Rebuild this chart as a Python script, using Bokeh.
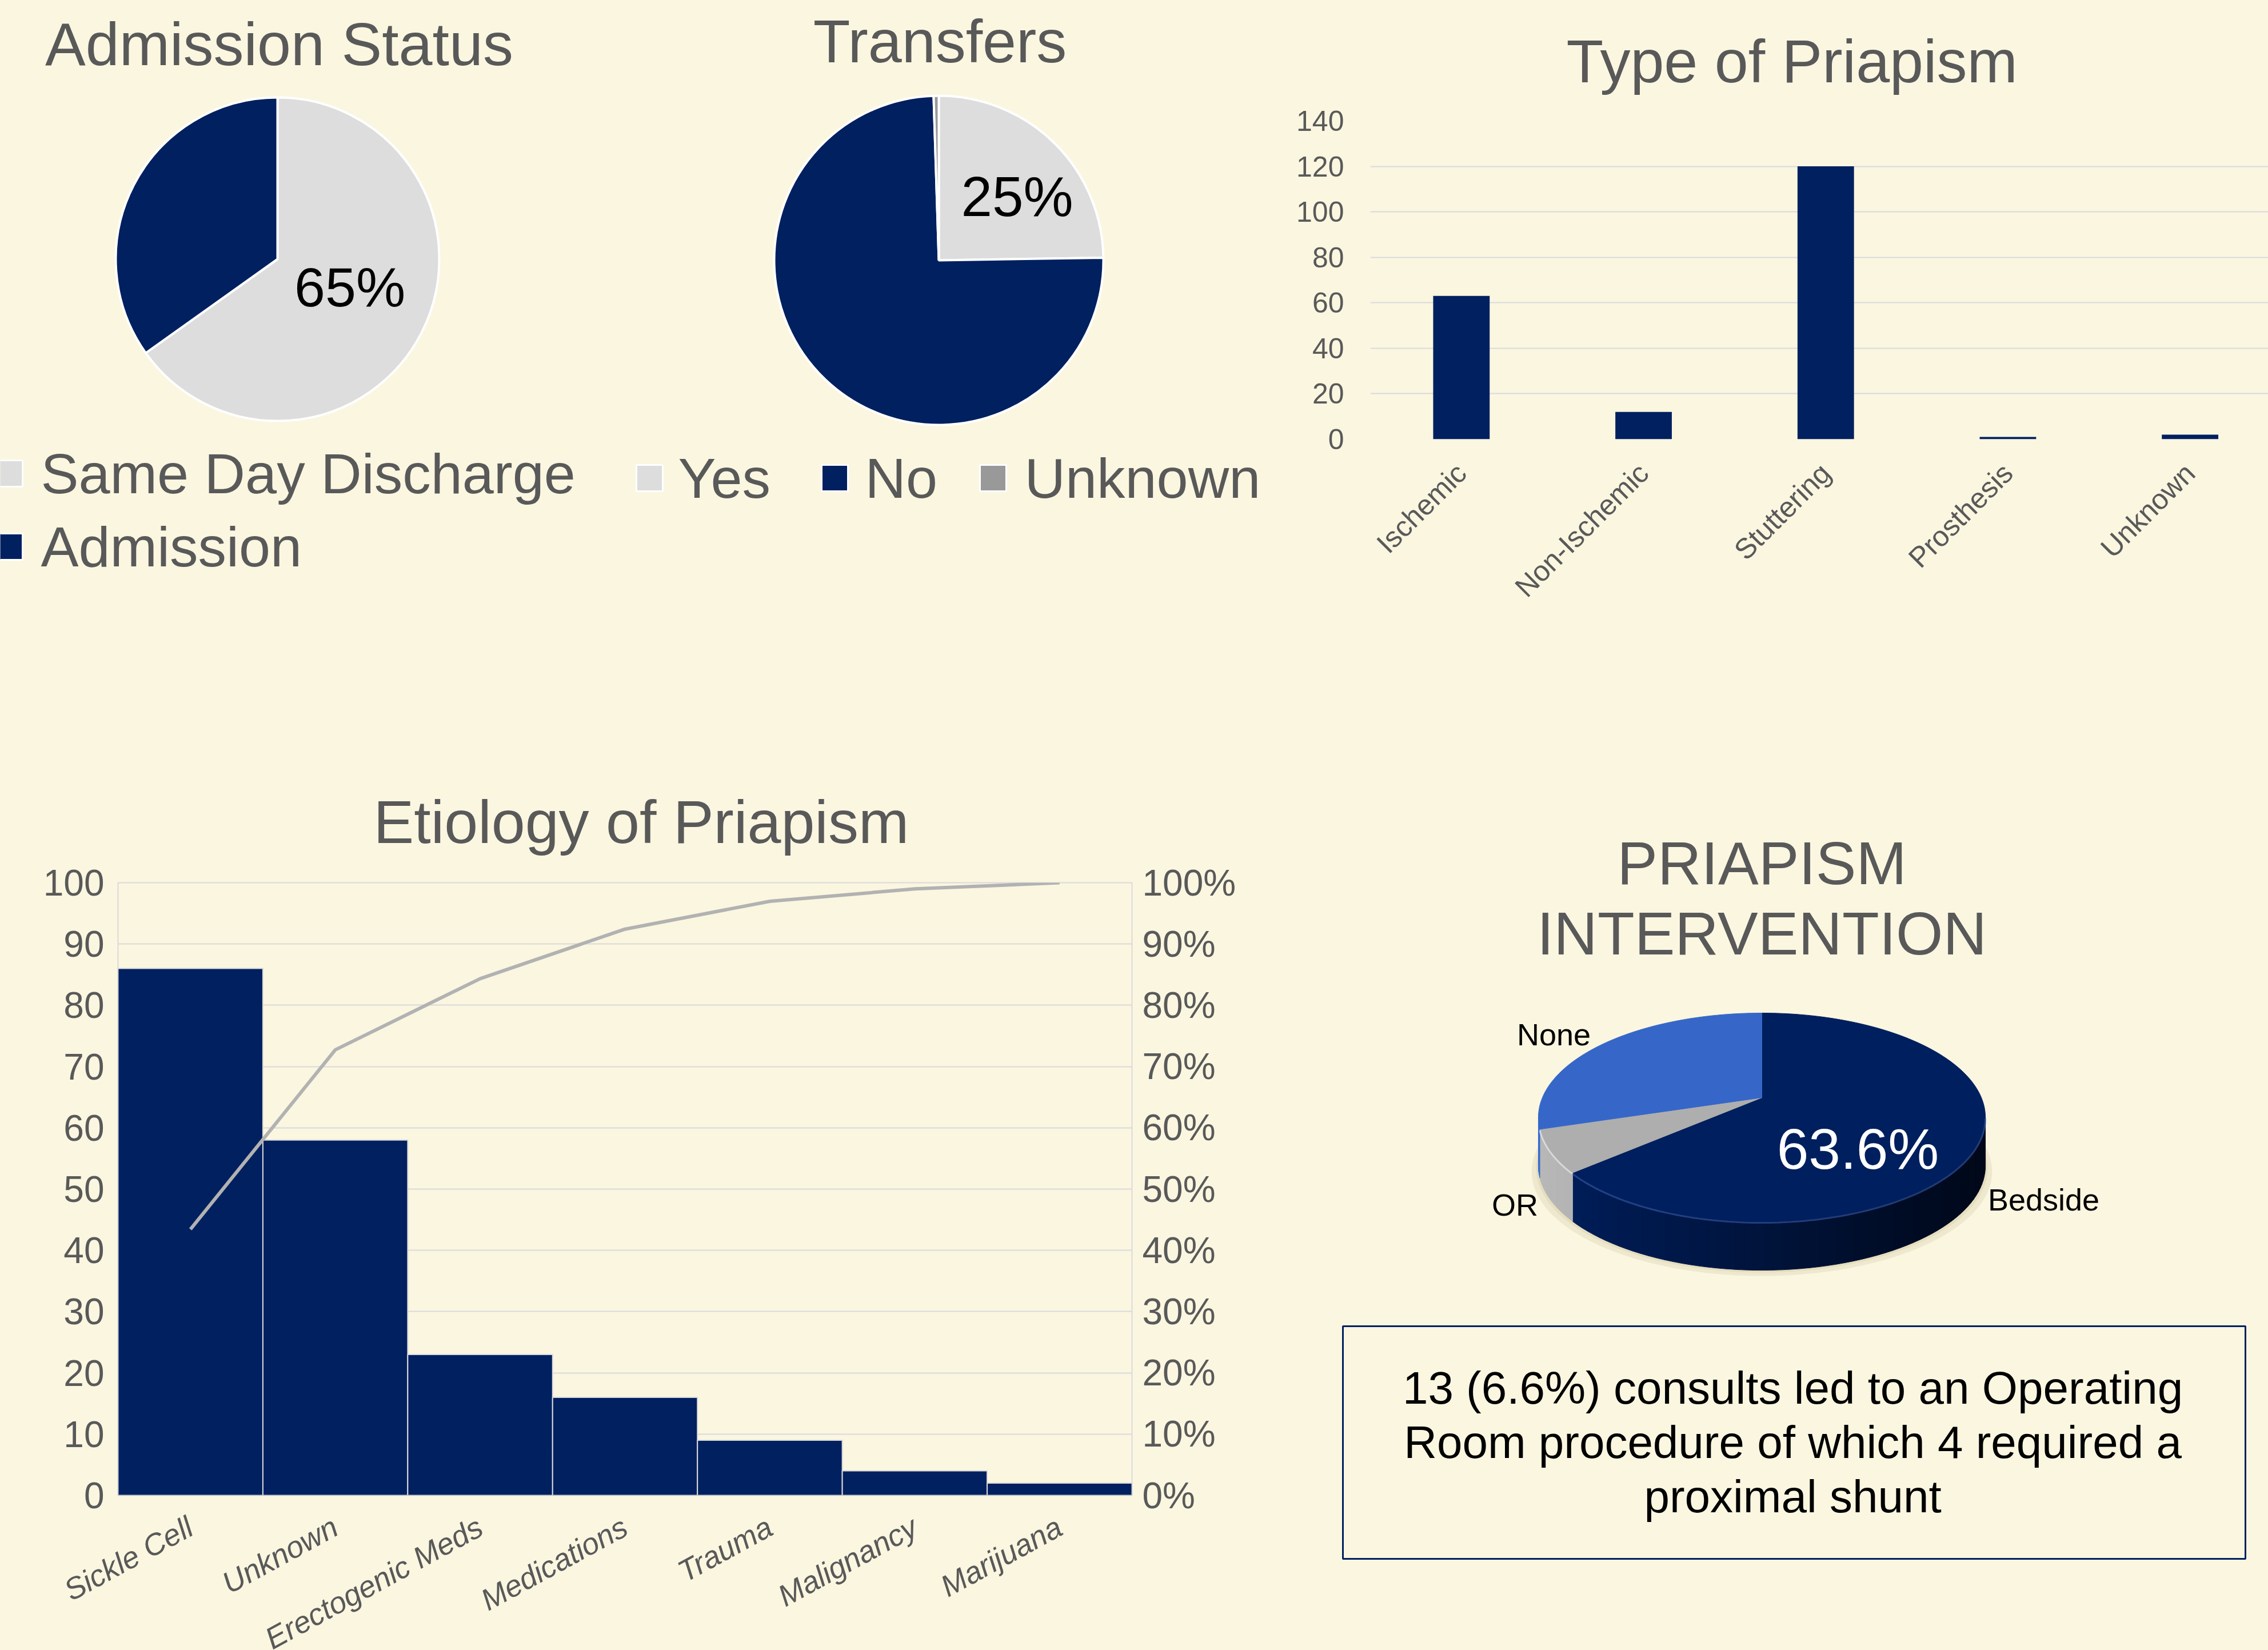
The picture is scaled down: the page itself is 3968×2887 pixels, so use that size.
import numpy as np
from math import pi
from bokeh.plotting import figure
from bokeh.layouts import column, row
from bokeh.models import Range1d, LinearAxis, FixedTicker, NumeralTickFormatter
from bokeh.core.properties import value
from bokeh.embed import file_html
from bokeh.resources import INLINE

# ---------------- data ----------------
adm_labels = ["Same Day Discharge", "Admission"]
adm_values = [129, 69]

trans_labels = ["Yes", "No", "Unknown"]
trans_values = [49, 148, 1]

type_cats = ["Ischemic", "Non-Ischemic", "Stuttering", "Prosthesis", "Unknown"]
type_values = [63, 12, 120, 1, 2]
type_ticks = [0, 20, 40, 60, 80, 100, 120, 140]

etio_cats = ["Sickle Cell", "Unknown", "Erectogenic Meds", "Medications",
             "Trauma", "Malignancy", "Marijuana"]
etio_values = [86, 58, 23, 16, 9, 4, 2]
etio_ticks = [0, 10, 20, 30, 40, 50, 60, 70, 80, 90, 100]
etio_pct_ticks = [0, 0.1, 0.2, 0.3, 0.4, 0.5, 0.6, 0.7, 0.8, 0.9, 1.0]

interv_labels = ["Bedside", "OR", "None"]
interv_values = [126, 13, 59]

note_lines = ["13 (6.6%) consults led to an Operating",
              "Room procedure of which 4 required a",
              "proximal shunt"]

# ---------------- style ----------------
FONT = "Liberation Sans"
BG = "#FAF6E0"
NAVY = "#002060"
LIGHT = "#DDDDDD"
UNK = "#999999"
TXT = "#595959"
GRID = "#D9D9D9"

TOP_H = 1288
BOT_H = 1599


def canvas(W, H):
    p = figure(width=W, height=H, x_range=Range1d(0, W), y_range=Range1d(0, H),
               x_axis_location=None, y_axis_location=None, toolbar_location=None,
               output_backend="svg", min_border=0, outline_line_color=None,
               background_fill_color=BG, border_fill_color=BG, frame_align=False)
    p.grid.visible = False
    return p


def txt(p, x, y_base, s, size, color, align="center", style="normal"):
    # y_base: alphabetic baseline (data units); drawn with middle baseline at cap middle
    p.text(x=[x], y=[y_base + 0.358 * size], text=[s], text_font=value(FONT),
           text_font_size=value(f"{size}px"), text_color=color,
           text_align=align, text_baseline="middle", text_font_style=style)


def flat_pie(p, cx, cy, r, vals, cols, label_idx, label_r, ang_off, label_size):
    total = float(sum(vals))
    fr = np.array(vals) / total
    cum = np.concatenate([[0], np.cumsum(fr)])
    start = pi / 2 - 2 * pi * cum[:-1]
    end = pi / 2 - 2 * pi * cum[1:]
    p.wedge(x=[cx] * len(vals), y=[cy] * len(vals), radius=r,
            start_angle=start, end_angle=end, direction="clock",
            fill_color=cols, line_color="white", line_width=4)
    mid = 2 * pi * (cum[label_idx] + cum[label_idx + 1]) / 2 + np.radians(ang_off)
    lx = cx + label_r * r * np.sin(mid)
    ly = cy + label_r * r * np.cos(mid)
    txt(p, lx, ly - 0.358 * label_size, f"{fr[label_idx] * 100:.0f}%", label_size, "black")


def legend_item(p, x_sq, y_c, x_txt, label, col, size=99):
    p.rect(x=[x_sq], y=[y_c], width=46, height=46, fill_color=col,
           line_color="white", line_width=3)
    txt(p, x_txt, y_c - 0.358 * size, label, size, TXT, align="left")


# ---------------- Admission Status ----------------
WA = 1108
fxA = 0
pA = canvas(WA, TOP_H)
tA = lambda x: x - fxA
yA = lambda y: TOP_H - y
flat_pie(pA, tA(485), yA(453), 283, adm_values, [LIGHT, NAVY], 0, 0.48, -6, 97)
txt(pA, tA(488), yA(114), "Admission Status", 106, TXT)
legend_item(pA, tA(16), yA(828), tA(71), adm_labels[0], LIGHT)
legend_item(pA, tA(16), yA(956), tA(71), adm_labels[1], NAVY)

# ---------------- Transfers ----------------
WB = 1150
fxB = WA
pB = canvas(WB, TOP_H)
tB = lambda x: x - fxB
yB = lambda y: TOP_H - y
flat_pie(pB, tB(1642), yB(455), 288, trans_values, [LIGHT, NAVY, UNK], 0, 0.613, 6.4, 98)
txt(pB, tB(1644), yB(109), "Transfers", 106, TXT)
leg_sq_x = [1136, 1460, 1737]
leg_tx_x = [1186, 1513, 1792]
for lab, col, xs, xt in zip(trans_labels, [LIGHT, NAVY, UNK], leg_sq_x, leg_tx_x):
    legend_item(pB, tB(xs), yB(836), tB(xt), lab, col)

# ---------------- Type of Priapism ----------------
WC = 1710
C_LEFT = 139
C_UNIT = 318.7
pC = figure(width=WC, height=TOP_H,
            x_range=Range1d(-0.5, -0.5 + (WC - C_LEFT) / C_UNIT), y_range=Range1d(0, 140),
            toolbar_location=None, output_backend="svg", frame_align=False,
            min_border_left=C_LEFT, min_border_right=0, min_border_top=208, min_border_bottom=520,
            background_fill_color=BG, border_fill_color=BG, outline_line_color=None)
pC.vbar(x=list(range(len(type_cats))), top=type_values, width=0.31,
        fill_color=NAVY, line_color=None)
pC.title.text = "Type of Priapism"
pC.title.align = "left"
pC.title.offset = 343
pC.title.standoff = 91
pC.title.text_font = FONT
pC.title.text_font_size = "106px"
pC.title.text_font_style = "normal"
pC.title.text_color = TXT
pC.yaxis.ticker = FixedTicker(ticks=type_ticks)
pC.xaxis.ticker = FixedTicker(ticks=list(range(len(type_cats))))
pC.xaxis.major_label_overrides = {i: c for i, c in enumerate(type_cats)}
pC.xaxis.major_label_orientation = pi / 4
pC.xaxis.major_label_standoff = 45
pC.yaxis.major_label_standoff = 40
for ax in (pC.xaxis, pC.yaxis):
    ax.axis_line_color = None
    ax.major_tick_line_color = None
    ax.minor_tick_line_color = None
    ax.major_label_text_font = FONT
    ax.major_label_text_font_size = "50px"
    ax.major_label_text_color = TXT
pC.xgrid.visible = False
pC.ygrid.grid_line_color = GRID
pC.ygrid.grid_line_width = 2

# ---------------- Etiology of Priapism ----------------
WD = 2258
pD = figure(frame_width=1774, frame_height=1072,
            x_range=Range1d(-0.5, len(etio_cats) - 0.5),
            y_range=Range1d(0, 100), toolbar_location=None, output_backend="svg",
            frame_align=False,
            min_border_left=206, min_border_right=278, min_border_top=256, min_border_bottom=271,
            background_fill_color=BG, border_fill_color=BG,
            outline_line_color=GRID, outline_line_width=2)
pD.extra_y_ranges = {"pct": Range1d(0, 1)}
idx = list(range(len(etio_cats)))
pD.vbar(x=idx, top=etio_values, width=1.0, fill_color=NAVY, line_color=GRID, line_width=2)
cum_pct = np.cumsum(etio_values) / float(sum(etio_values))
pD.line(x=idx, y=cum_pct, y_range_name="pct", line_color="#B2B2B2", line_width=6)
right_ax = LinearAxis(y_range_name="pct", ticker=FixedTicker(ticks=etio_pct_ticks),
                      formatter=NumeralTickFormatter(format="0%"))
pD.add_layout(right_ax, "right")
pD.title.text = "Etiology of Priapism"
pD.title.align = "left"
pD.title.offset = 447
pD.title.standoff = 96
pD.title.text_font = FONT
pD.title.text_font_size = "106px"
pD.title.text_font_style = "normal"
pD.title.text_color = TXT
pD.yaxis[0].ticker = FixedTicker(ticks=etio_ticks)
pD.xaxis.ticker = FixedTicker(ticks=idx)
pD.xaxis.major_label_overrides = {i: c for i, c in enumerate(etio_cats)}
pD.xaxis.major_label_orientation = 0.5
pD.xaxis.major_label_standoff = 45
pD.xaxis.major_label_text_font_style = "italic"
for ax in list(pD.xaxis) + list(pD.yaxis):
    ax.axis_line_color = None
    ax.major_tick_line_color = None
    ax.minor_tick_line_color = None
    ax.major_label_text_font = FONT
    ax.major_label_text_color = TXT
pD.xaxis.major_label_text_font_size = "53px"
pD.yaxis[0].major_label_text_font_size = "64px"
pD.yaxis[0].major_label_standoff = 18
right_ax.major_label_text_font_size = "64px"
right_ax.major_label_standoff = 12
pD.xgrid.visible = False
pD.ygrid.grid_line_color = GRID
pD.ygrid.grid_line_width = 2

# ---------------- Priapism Intervention ----------------
WE = 1710
fxE, fyE = WD, TOP_H
pE = canvas(WE, BOT_H)
tE = lambda x: x - fxE
yE = lambda y: fyE + BOT_H - y
txt(pE, tE(3082), yE(1547), "PRIAPISM", 106, TXT)
txt(pE, tE(3082), yE(1670), "INTERVENTION", 106, TXT)

cx, cy = tE(3082), yE(1920)
RX, RY, K, DEPTH = 384.0, 176.0, 0.189, 85.0


def proj(phi):
    den = 1 + K * np.cos(phi)
    return cx + RX * np.sin(phi) / den, cy + RY * np.cos(phi) / den


def shade(rgb, f):
    return "#%02x%02x%02x" % tuple(int(max(0, min(255, c * f))) for c in rgb)


fr = np.array(interv_values) / float(sum(interv_values))
cum = np.concatenate([[0], np.cumsum(fr)]) * 2 * pi
top_cols = ["#001F5E", "#AEAEAE", "#3667C8"]
side_rgb = [(0, 32, 96), (175, 175, 175), (54, 103, 200)]

# shadow
sh = np.linspace(0, 2 * pi, 200)
sx, sy = proj(sh)
pE.patch(cx + (sx - cx) * 1.03, sy - DEPTH - 10, fill_color="#E8E2C6", line_color=None, fill_alpha=0.7)
pE.patch(cx + (sx - cx) * 1.01, sy - DEPTH - 4, fill_color="#E2DBBC", line_color=None, fill_alpha=0.8)

# sides
phi_l = np.arccos(-K)
phi_r = 2 * pi - phi_l
sxs, sys_, scol = [], [], []
for s, e, base in zip(cum[:-1], cum[1:], side_rgb):
    a, b = max(s, phi_l), min(e, phi_r)
    if b <= a:
        continue
    n = max(2, int(np.degrees(b - a) / 2) + 2)
    ph = np.linspace(a, b, n)
    for i in range(n - 1):
        x0, y0 = proj(ph[i])
        x1, y1 = proj(ph[i + 1])
        sxs.append([x0, x1, x1, x0])
        sys_.append([y0, y1, y1 - DEPTH, y0 - DEPTH])
        xn = ((x0 + x1) / 2 - cx) / RX
        f = 0.62 - 0.35 * xn if base == side_rgb[0] else 0.9 - 0.15 * xn
        scol.append(shade(base, f))
pE.patches(sxs, sys_, fill_color=scol, line_color=scol, line_width=1)

# top faces
txs, tys = [], []
for s, e in zip(cum[:-1], cum[1:]):
    n = max(3, int(np.degrees(e - s)) + 2)
    ph = np.linspace(s, e, n)
    px, py = proj(ph)
    txs.append([cx] + list(px))
    tys.append([cy] + list(py))
pE.patches(txs, tys, fill_color=top_cols, line_color=top_cols, line_width=1)

# front rim highlight
hp = np.linspace(phi_l, cum[1], 120)
hx, hy = proj(hp)
pE.line(hx, hy - 2, line_color="#3A5AA8", line_width=3, line_alpha=0.6)
hp2 = np.linspace(cum[1], min(cum[2], phi_r), 30)
hx2, hy2 = proj(hp2)
pE.line(hx2, hy2 - 2, line_color="#E8E8E8", line_width=3, line_alpha=0.7)

# labels
txt(pE, tE(3250), yE(2045), f"{fr[0] * 100:.1f}%", 100, "white")
txt(pE, tE(3575), yE(2118), interv_labels[0], 54, "black")
txt(pE, tE(2650), yE(2127), interv_labels[1], 54, "black")
txt(pE, tE(2718), yE(1829), interv_labels[2], 54, "black")

# note box
pE.quad(left=[tE(2349)], right=[tE(3928)], top=[yE(2320)], bottom=[yE(2727)],
        fill_color=None, line_color=NAVY, line_width=3)
for line, yb in zip(note_lines, [2457, 2552, 2647]):
    txt(pE, tE(3136), yE(yb), line, 80, "black")

layout = column(row(pA, pB, pC), row(pD, pE))
html = file_html(layout, INLINE, title="Priapism")
html = html.replace("<body>", '<body style="background-color:%s;overflow:hidden;">' % BG)
open("out.html", "w").write(html)
